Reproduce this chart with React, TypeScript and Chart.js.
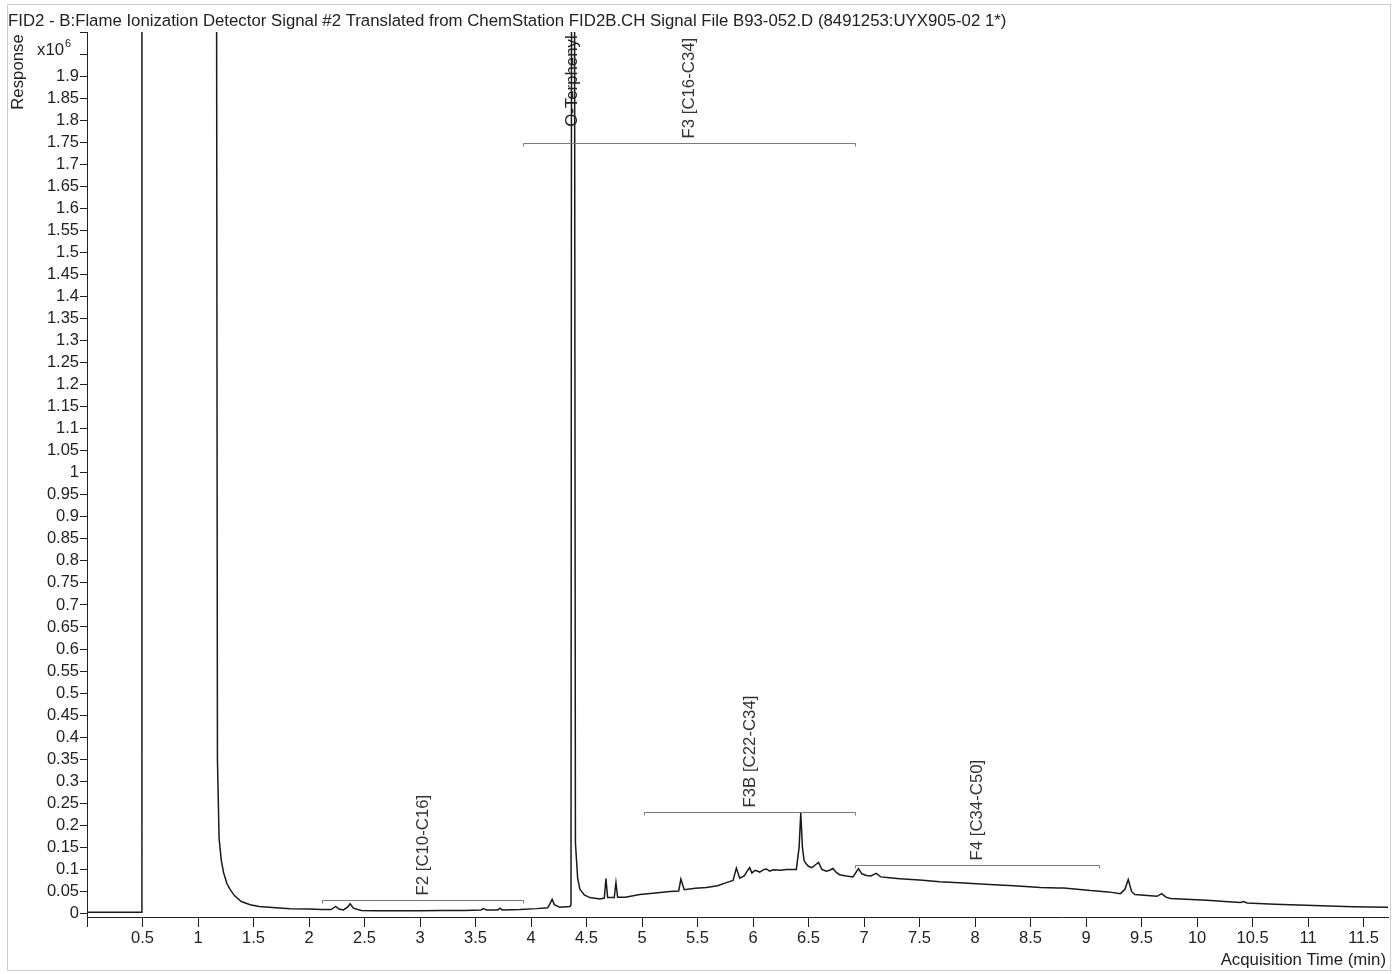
import React, { useEffect, useRef } from "react";
import { Chart, registerables } from "chart.js";

Chart.register(...registerables);

const titleText =
  "FID2 - B:Flame Ionization Detector Signal #2 Translated from ChemStation FID2B.CH Signal File B93-052.D (8491253:UYX905-02 1*)";
const yAxisTitle = "Response";
const xAxisTitle = "Acquisition Time (min)";

const timeMin = [
  0, 0.25, 0.49, 0.495, 1.165, 1.175, 1.19, 1.21, 1.23, 1.26, 1.29, 1.33, 1.39, 1.47, 1.55, 1.7, 1.83, 2.0,
  2.11, 2.2, 2.24, 2.27, 2.31, 2.35, 2.37, 2.4, 2.47, 2.6, 2.8, 3.0, 3.2, 3.4, 3.55, 3.57, 3.6, 3.7, 3.72,
  3.74, 3.9, 4.05, 4.15, 4.17, 4.19, 4.21, 4.26, 4.35, 4.36, 4.366, 4.39, 4.4, 4.42, 4.44, 4.48, 4.53, 4.62,
  4.66, 4.675, 4.69, 4.75, 4.765, 4.78, 4.85, 4.98, 5.1, 5.25, 5.33, 5.35, 5.38, 5.48, 5.58, 5.68, 5.76,
  5.82, 5.85, 5.88, 5.92, 5.95, 5.97, 5.99, 6.02, 6.06, 6.1, 6.12, 6.15, 6.18, 6.25, 6.3, 6.39, 6.415, 6.43,
  6.445, 6.46, 6.48, 6.5, 6.53, 6.56, 6.59, 6.62, 6.66, 6.69, 6.72, 6.75, 6.78, 6.84, 6.9, 6.95, 6.98, 7.02,
  7.06, 7.11, 7.15, 7.23, 7.32, 7.5, 7.68, 7.9, 8.13, 8.35, 8.59, 8.75, 8.8, 9.04, 9.2, 9.31, 9.35, 9.38,
  9.41, 9.44, 9.55, 9.64, 9.68, 9.72, 9.76, 9.9, 10.09, 10.25, 10.39, 10.42, 10.45, 10.7, 11.05, 11.4, 11.72,
];

const responseE6 = [
  0.003, 0.003, 0.003, 2.6, 2.6, 0.35, 0.17, 0.12, 0.093, 0.068, 0.054, 0.04, 0.027, 0.02, 0.016, 0.013, 0.011, 0.01,
  0.009, 0.009, 0.016, 0.01, 0.008, 0.015, 0.022, 0.012, 0.007, 0.006, 0.006, 0.006, 0.007, 0.007, 0.008, 0.011, 0.008, 0.008, 0.012,
  0.008, 0.009, 0.011, 0.013, 0.022, 0.032, 0.02, 0.014, 0.016, 0.02, 2.6, 2.6, 0.16, 0.08, 0.055, 0.042, 0.036, 0.033,
  0.035, 0.079, 0.036, 0.036, 0.07, 0.037, 0.037, 0.043, 0.046, 0.05, 0.051, 0.078, 0.054, 0.057, 0.059, 0.063, 0.07,
  0.075, 0.103, 0.08, 0.085, 0.097, 0.104, 0.092, 0.098, 0.094, 0.1, 0.101, 0.096, 0.099, 0.098, 0.1, 0.1, 0.15, 0.228,
  0.15, 0.12, 0.112, 0.107, 0.104, 0.11, 0.116, 0.1, 0.096, 0.098, 0.102, 0.093, 0.088, 0.085, 0.083, 0.102, 0.09, 0.086,
  0.085, 0.091, 0.083, 0.081, 0.079, 0.076, 0.072, 0.069, 0.066, 0.063, 0.059, 0.058, 0.058, 0.052, 0.049, 0.045, 0.055, 0.077,
  0.05, 0.043, 0.041, 0.039, 0.045, 0.037, 0.034, 0.032, 0.03, 0.027, 0.025, 0.027, 0.024, 0.021, 0.018, 0.015, 0.014,
];

const xTickValues = [0, 0.5, 1, 1.5, 2, 2.5, 3, 3.5, 4, 4.5, 5, 5.5, 6, 6.5, 7, 7.5, 8, 8.5, 9, 9.5, 10, 10.5, 11, 11.5];
const xTickLabels = ["", "0.5", "1", "1.5", "2", "2.5", "3", "3.5", "4", "4.5", "5", "5.5", "6", "6.5", "7", "7.5", "8", "8.5", "9", "9.5", "10", "10.5", "11", "11.5"];
const yTickValues = [
  0, 0.05, 0.1, 0.15, 0.2, 0.25, 0.3, 0.35, 0.4, 0.45, 0.5, 0.55, 0.6, 0.65, 0.7, 0.75, 0.8, 0.85, 0.9, 0.95, 1,
  1.05, 1.1, 1.15, 1.2, 1.25, 1.3, 1.35, 1.4, 1.45, 1.5, 1.55, 1.6, 1.65, 1.7, 1.75, 1.8, 1.85, 1.9, 1.95, 2,
];
const yTickLabels = [
  "0", "0.05", "0.1", "0.15", "0.2", "0.25", "0.3", "0.35", "0.4", "0.45", "0.5", "0.55", "0.6", "0.65", "0.7", "0.75", "0.8", "0.85", "0.9", "0.95", "1",
  "1.05", "1.1", "1.15", "1.2", "1.25", "1.3", "1.35", "1.4", "1.45", "1.5", "1.55", "1.6", "1.65", "1.7", "1.75", "1.8", "1.85", "1.9", "", "",
];

const bracketLabels = ["F2 [C10-C16]", "F3 [C16-C34]", "F3B [C22-C34]", "F4 [C34-C50]"];
const bracketStart = [2.12, 3.93, 5.02, 6.92];
const bracketEnd = [3.93, 6.92, 6.92, 9.12];
const bracketLevel = [0.03, 1.748, 0.231, 0.109];

const peakLabels = ["O-Terphenyl"];
const peakTimes = [4.375];
const peakLabelLevels = [1.785];

const FONT = "'Liberation Sans', Arial, Helvetica, sans-serif";
const TEXT_SIZE = 16.8;

const decorPlugin = {
  id: "decor",
  afterDraw(chart: any) {
    const ctx = chart.ctx as CanvasRenderingContext2D;
    const xs = chart.scales.x;
    const ys = chart.scales.y;
    ctx.save();
    ctx.strokeStyle = "#cfcfcf";
    ctx.lineWidth = 1;
    ctx.strokeRect(7.5, 4.5, 1383, 966);

    ctx.fillStyle = "#222";
    ctx.font = `${TEXT_SIZE}px ${FONT}`;
    ctx.textBaseline = "middle";
    ctx.textAlign = "left";
    ctx.fillText(titleText, 8, 21);

    ctx.save();
    ctx.translate(18, 72);
    ctx.rotate(-Math.PI / 2);
    ctx.textAlign = "center";
    ctx.fillText(yAxisTitle, 0, 0);
    ctx.restore();

    ctx.textAlign = "left";
    ctx.fillText("x10", 37, 50);
    const w = ctx.measureText("x10").width;
    ctx.font = `11px ${FONT}`;
    ctx.fillText("6", 37 + w + 1, 44);

    ctx.font = `${TEXT_SIZE}px ${FONT}`;
    ctx.textAlign = "right";
    ctx.fillText(xAxisTitle, 1386, 960);

    ctx.strokeStyle = "#7a7a7a";
    ctx.lineWidth = 1;
    for (let i = 0; i < bracketLabels.length; i++) {
      const x0 = Math.round(xs.getPixelForValue(bracketStart[i])) + 0.5;
      const x1 = Math.round(xs.getPixelForValue(bracketEnd[i])) + 0.5;
      const y = Math.round(ys.getPixelForValue(bracketLevel[i])) + 0.5;
      ctx.beginPath();
      ctx.moveTo(x0, y + 3);
      ctx.lineTo(x0, y);
      ctx.lineTo(x1, y);
      ctx.lineTo(x1, y + 3);
      ctx.stroke();
      const cx = (x0 + x1) / 2;
      ctx.save();
      ctx.translate(cx, y - 5);
      ctx.rotate(-Math.PI / 2);
      ctx.textAlign = "left";
      ctx.textBaseline = "middle";
      ctx.fillStyle = "#333";
      ctx.font = `${TEXT_SIZE}px ${FONT}`;
      ctx.fillText(bracketLabels[i], 0, 0);
      ctx.restore();
    }

    for (let i = 0; i < peakLabels.length; i++) {
      const cx = xs.getPixelForValue(peakTimes[i]);
      const y = ys.getPixelForValue(peakLabelLevels[i]);
      ctx.save();
      ctx.translate(cx, y);
      ctx.rotate(-Math.PI / 2);
      ctx.textAlign = "left";
      ctx.textBaseline = "middle";
      ctx.fillStyle = "#222";
      ctx.font = `${TEXT_SIZE}px ${FONT}`;
      ctx.fillText(peakLabels[i], 0, 0);
      ctx.restore();
    }
    ctx.restore();
  },
};

export default function App() {
  const canvasRef = useRef<HTMLCanvasElement | null>(null);

  useEffect(() => {
    document.body.style.margin = "0";
    const canvas = canvasRef.current;
    if (!canvas) return;
    const points = timeMin.map((t, i) => ({ x: t, y: responseE6[i] }));
    const chart = new Chart(canvas, {
      type: "line",
      data: {
        datasets: [
          {
            data: points,
            borderColor: "#1a1a1a",
            borderWidth: 1.5,
            pointRadius: 0,
            tension: 0,
            fill: false,
          },
        ],
      },
      options: {
        animation: false,
        responsive: false,
        maintainAspectRatio: false,
        devicePixelRatio: 1,
        layout: { padding: { top: 32, right: 4, left: 0, bottom: 0 } },
        plugins: { legend: { display: false }, tooltip: { enabled: false }, title: { display: false } },
        scales: {
          x: {
            type: "linear",
            min: 0,
            max: 11.72,
            grid: { display: true, drawOnChartArea: false, drawTicks: true, tickLength: 10, color: "#222" },
            border: { display: true, color: "#222", width: 1 },
            ticks: {
              autoSkip: false,
              maxRotation: 0,
              padding: 2,
              color: "#222",
              font: { family: FONT, size: 16.5 },
              callback: (v: any) => {
                const idx = xTickValues.findIndex((t) => Math.abs(t - Number(v)) < 1e-6);
                return idx >= 0 ? xTickLabels[idx] : "";
              },
            },
            afterBuildTicks: (scale: any) => {
              scale.ticks = xTickValues.map((v) => ({ value: v }));
            },
            afterFit: (scale: any) => {
              scale.height = 57;
            },
          },
          y: {
            type: "linear",
            min: -0.008,
            max: 2.0,
            grid: { display: true, drawOnChartArea: false, drawTicks: true, tickLength: 7, color: "#222" },
            border: { display: true, color: "#222", width: 1 },
            ticks: {
              autoSkip: false,
              padding: 1,
              color: "#222",
              font: { family: FONT, size: 16.5 },
              callback: (v: any) => {
                const idx = yTickValues.findIndex((t) => Math.abs(t - Number(v)) < 1e-6);
                return idx >= 0 ? yTickLabels[idx] : "";
              },
            },
            afterBuildTicks: (scale: any) => {
              scale.ticks = yTickValues.map((v) => ({ value: v }));
            },
            afterFit: (scale: any) => {
              scale.width = 87;
            },
          },
        },
      },
      plugins: [decorPlugin],
    });
    return () => chart.destroy();
  }, []);

  return (
    <div style={{ position: "fixed", left: 0, top: 0, width: 1392, height: 974, background: "#fff" }}>
      <canvas ref={canvasRef} width={1392} height={974} style={{ width: 1392, height: 974, display: "block" }} />
    </div>
  );
}
